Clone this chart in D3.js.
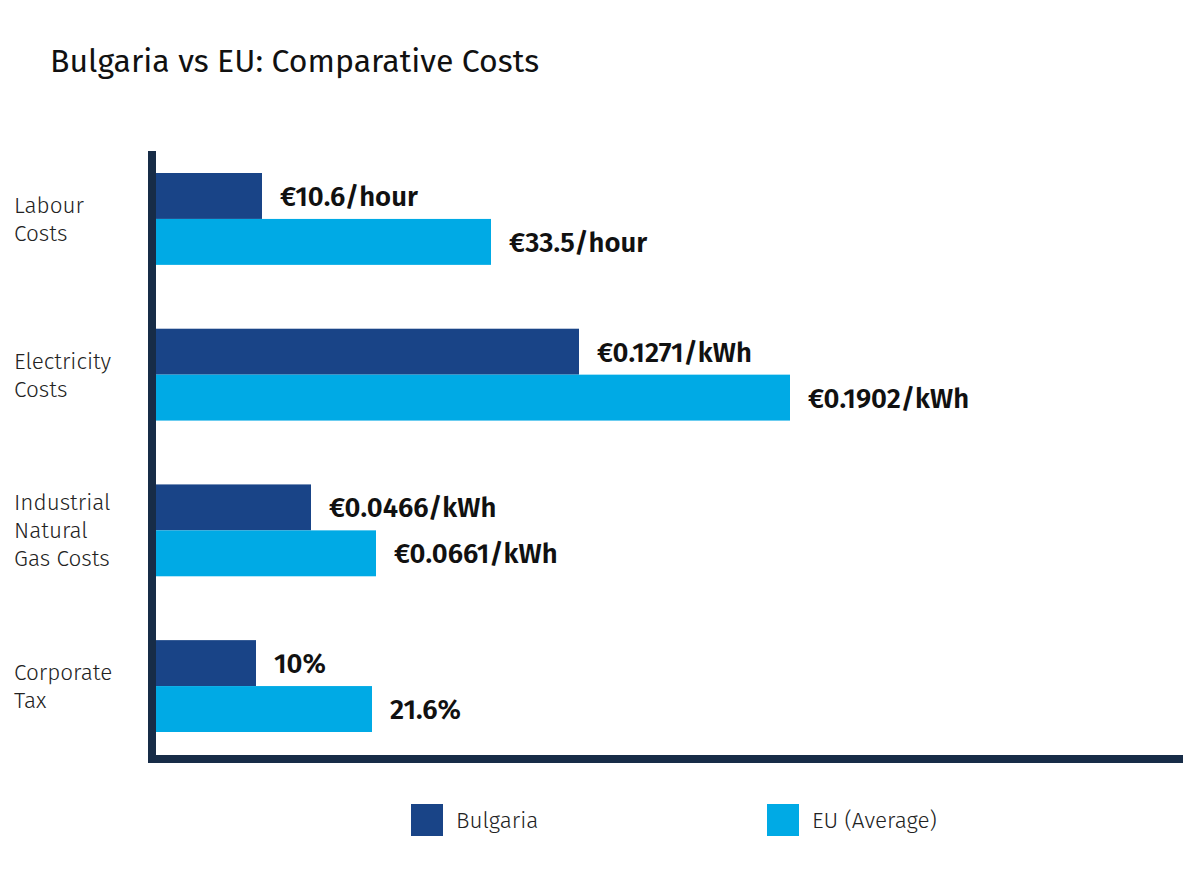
<!DOCTYPE html>
<html>
<head>
<meta charset="utf-8">
<script src="https://cdn.jsdelivr.net/npm/d3@7"></script>
<style>
  html, body { margin: 0; padding: 0; background: #ffffff; }
  svg { display: block; font-family: "Fira Sans", "Open Sans", sans-serif; }
</style>
</head>
<body>
<svg id="chart" width="1200" height="878"></svg>
<script>
// ---- data ----
const categories = ["Labour Costs", "Electricity Costs", "Industrial Natural Gas Costs", "Corporate Tax"];
const categoryLines = [["Labour", "Costs"], ["Electricity", "Costs"], ["Industrial", "Natural", "Gas Costs"], ["Corporate", "Tax"]];
const seriesNames = ["Bulgaria", "EU (Average)"];
// bar lengths as drawn (relative index)
const bulgariaValues = [10.6, 42.3, 15.5, 10.0];
const euValues = [33.5, 63.4, 22.0, 21.6];
const bulgariaLabels = ["€10.6/hour", "€0.1271/kWh", "€0.0466/kWh", "10%"];
const euLabels = ["€33.5/hour", "€0.1902/kWh", "€0.0661/kWh", "21.6%"];

const colors = { "Bulgaria": "#194487", "EU (Average)": "#00aae5" };
const axisColor = "#172c47";

const svg = d3.select("#chart");

// title
svg.append("text")
  .attr("x", 50).attr("y", 72)
  .attr("font-size", 32)
  .attr("fill", "#111")
  .text("Bulgaria vs EU: Comparative Costs");

const x = d3.scaleLinear().domain([0, 100]).range([156, 1156]);
const y = d3.scaleBand().domain(categories).range([173, 732]).paddingInner(0.41).paddingOuter(0);
const ySub = d3.scaleBand().domain(seriesNames).range([0, y.bandwidth()]).padding(0);

const rows = categories.map((c, i) => ({
  cat: c,
  lines: categoryLines[i],
  bars: [
    { s: seriesNames[0], v: bulgariaValues[i], label: bulgariaLabels[i] },
    { s: seriesNames[1], v: euValues[i], label: euLabels[i] }
  ]
}));

const g = svg.selectAll("g.row").data(rows).join("g")
  .attr("class", "row")
  .attr("transform", d => `translate(0,${y(d.cat)})`);

g.selectAll("rect").data(d => d.bars).join("rect")
  .attr("x", x(0))
  .attr("y", d => ySub(d.s))
  .attr("width", d => x(d.v) - x(0))
  .attr("height", ySub.bandwidth())
  .attr("fill", d => colors[d.s]);

g.selectAll("text.val").data(d => d.bars).join("text")
  .attr("class", "val")
  .attr("x", d => x(d.v) + 18)
  .attr("y", d => ySub(d.s) + ySub.bandwidth() / 2)
  .attr("dy", "0.36em")
  .attr("font-size", 27.5)
  .attr("font-weight", 600)
  .attr("fill", "#111")
  .text(d => d.label);

// category labels
const lineH = 28;
g.append("text")
  .attr("class", "cat")
  .attr("x", 14)
  .attr("font-size", 22.5)
  .attr("font-weight", 300)
  .attr("fill", "#222")
  .each(function(d) {
    const t = d3.select(this);
    const n = d.lines.length;
    d.lines.forEach((ln, k) => {
      t.append("tspan")
        .attr("x", 14)
        .attr("y", y.bandwidth() / 2 + (k - (n - 1) / 2) * lineH)
        .attr("dy", "0.36em")
        .text(ln);
    });
  });

// axes lines
svg.append("line")
  .attr("x1", 152).attr("x2", 152)
  .attr("y1", 151).attr("y2", 763)
  .attr("stroke", axisColor).attr("stroke-width", 8);
svg.append("line")
  .attr("x1", 148).attr("x2", 1183)
  .attr("y1", 759).attr("y2", 759)
  .attr("stroke", axisColor).attr("stroke-width", 8);

// legend
const legendX = [411, 767];
const lg = svg.selectAll("g.legend").data(seriesNames).join("g")
  .attr("class", "legend")
  .attr("transform", (d, i) => `translate(${legendX[i]},804)`);
lg.append("rect").attr("width", 32).attr("height", 32).attr("fill", d => colors[d]);
lg.append("text")
  .attr("x", 45).attr("y", 16).attr("dy", "0.36em")
  .attr("font-size", 22.5).attr("font-weight", 300).attr("fill", "#222")
  .text(d => d);
</script>
</body>
</html>
